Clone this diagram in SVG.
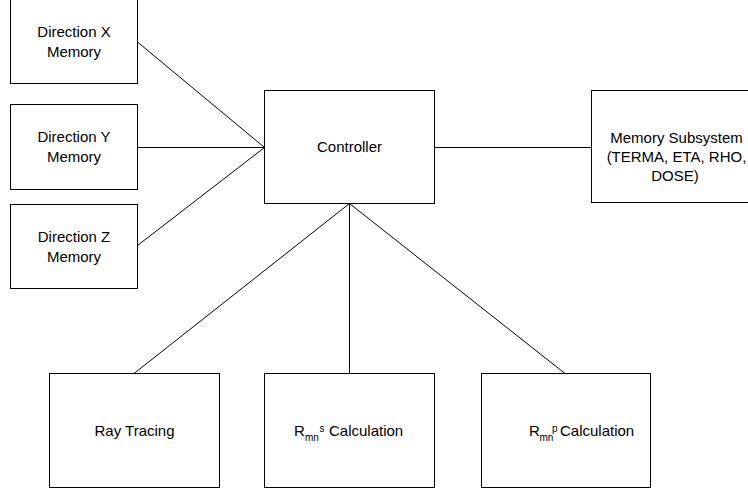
<svg xmlns="http://www.w3.org/2000/svg" width="748" height="490" viewBox="0 0 748 490">
<style>
.box{fill:#fff;stroke:#000;stroke-width:1}
.lbl{font-family:"Liberation Sans",Arial,sans-serif;font-size:15px;fill:#000;text-anchor:middle}
.lft{font-family:"Liberation Sans",Arial,sans-serif;font-size:15px;fill:#000}
.sm{font-size:10px}
.conn line{stroke:#000;stroke-width:1;fill:none}
</style>
<rect width="748" height="490" fill="#fff"/>
<g class="conn" id="connectors">
<line x1="137.5" y1="42" x2="264.5" y2="147.5"/>
<line x1="137.5" y1="147.5" x2="264.5" y2="147.5"/>
<line x1="137.5" y1="245.5" x2="264.5" y2="147.5"/>
<line x1="434.5" y1="147.5" x2="591.5" y2="147.5"/>
<line x1="349.5" y1="203.5" x2="134" y2="373.5"/>
<line x1="349.5" y1="203.5" x2="349.5" y2="373.5"/>
<line x1="349.5" y1="203.5" x2="565" y2="373.5"/>
</g>
<g id="dirX">
<rect class="box" x="10.5" y="-1.5" width="127" height="85"/>
<text class="lbl" x="74" y="37">Direction X</text>
<text class="lbl" x="74" y="56.5">Memory</text>
</g>
<g id="dirY">
<rect class="box" x="10.5" y="104.5" width="127" height="85"/>
<text class="lbl" x="74" y="142">Direction Y</text>
<text class="lbl" x="74" y="161.5">Memory</text>
</g>
<g id="dirZ">
<rect class="box" x="10.5" y="204.5" width="127" height="84"/>
<text class="lbl" x="74" y="242">Direction Z</text>
<text class="lbl" x="74" y="261.5">Memory</text>
</g>
<g id="controller">
<rect class="box" x="264.5" y="90.5" width="170" height="113"/>
<text class="lbl" x="349.5" y="152">Controller</text>
</g>
<g id="memory">
<rect class="box" x="591.5" y="90.5" width="170" height="112"/>
<text class="lbl" x="676.5" y="142.5">Memory Subsystem</text>
<text class="lbl" x="676.5" y="162">(TERMA, ETA, RHO,</text>
<text class="lbl" x="675" y="181">DOSE)</text>
</g>
<g id="raytracing">
<rect class="box" x="49.5" y="373.5" width="170" height="114"/>
<text class="lbl" x="134.5" y="435.5">Ray Tracing</text>
</g>
<g id="rmns">
<rect class="box" x="264.5" y="373.5" width="170" height="114"/>
<text class="lft" y="435.5"><tspan x="294">R</tspan><tspan class="sm" x="305" y="440.5">mn</tspan><tspan class="sm" x="319.5" y="431.5">s</tspan><tspan x="329" y="435.5">Calculation</tspan></text>
</g>
<g id="rmnp">
<rect class="box" x="481.5" y="373.5" width="169" height="114"/>
<text class="lft" y="435.5"><tspan x="529">R</tspan><tspan class="sm" x="539.5" y="440.5">mn</tspan><tspan class="sm" x="552" y="431.5">p</tspan><tspan x="560" y="435.5">Calculation</tspan></text>
</g>
</svg>
